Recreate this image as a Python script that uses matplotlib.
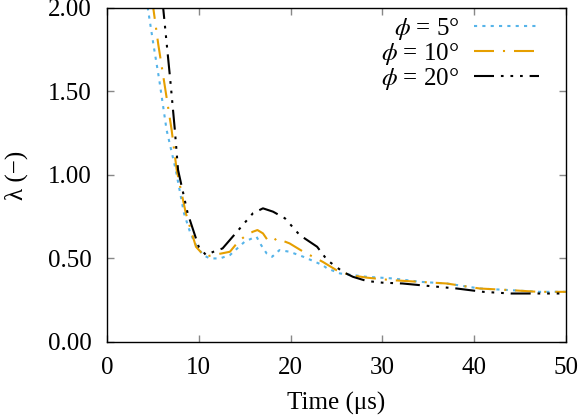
import matplotlib
matplotlib.use("Agg")
import matplotlib.pyplot as plt

plt.rcParams['font.family'] = ['Liberation Serif', 'DejaVu Serif']
plt.rcParams['mathtext.fontset'] = 'stix'

# lambda vs time
t5 = [4.0, 4.45, 5.1, 5.7, 6.5, 7.5, 8.4, 9.1, 9.8, 10.5, 11.2, 12.3, 13.4,
      14.2, 15.0, 15.8, 16.3, 16.8, 17.4, 18.0, 18.8, 19.9, 21.4, 23.5, 24.0,
      25.4, 28.3, 31.2, 34.1, 37.0, 40.6, 44.0, 47.0, 50.0]
lam5 = [2.25, 2.0, 1.77, 1.57, 1.27, 1.03, 0.77, 0.65, 0.57, 0.52, 0.50, 0.50, 0.52,
        0.56, 0.60, 0.62, 0.63, 0.58, 0.53, 0.51, 0.55, 0.54, 0.51, 0.46, 0.44,
        0.41, 0.39, 0.38, 0.36, 0.35, 0.32, 0.31, 0.30, 0.30]

t10 = [4.5, 5.05, 5.6, 6.2, 7.05, 7.6, 8.6, 9.7, 10.7, 11.5, 12.5, 13.4, 14.3,
       15.2, 15.9, 16.4, 17.0, 17.5, 18.0, 18.5, 19.9, 21.4, 23.5, 25.0, 26.5,
       28.3, 31.0, 34.0, 37.0, 40.6, 44.0, 47.0, 50.0]
lam10 = [2.30, 2.0, 1.78, 1.57, 1.27, 1.03, 0.77, 0.57, 0.51, 0.52, 0.53, 0.54, 0.60,
         0.64, 0.66, 0.67, 0.65, 0.61, 0.60, 0.62, 0.59, 0.54, 0.48, 0.43, 0.40,
         0.385, 0.37, 0.36, 0.35, 0.32, 0.31, 0.30, 0.30]

t20 = [5.6, 6.13, 6.9, 7.4, 7.75, 8.8, 10.0, 10.8, 11.6, 12.6, 13.7, 14.8, 15.9,
       17.0, 18.1, 19.4, 21.0, 22.9, 24.0, 25.7, 26.8, 28.3, 30.0, 32.2, 34.1,
       38.1, 41.0, 44.0, 47.0, 50.0]
lam20 = [2.40, 2.0, 1.57, 1.27, 1.03, 0.77, 0.57, 0.52, 0.54, 0.56, 0.63, 0.70, 0.77,
         0.80, 0.78, 0.74, 0.64, 0.57, 0.49, 0.42, 0.39, 0.365, 0.355, 0.35, 0.34,
         0.32, 0.30, 0.29, 0.29, 0.29]

fig = plt.figure(figsize=(5.81, 4.17), dpi=100)
ax = fig.add_axes([0.184, 0.180, 0.790, 0.801])

ax.plot(t5, lam5, color='#56B4E9', lw=1.5, dashes=(1.5, 2.5), label=r'$\phi$ = 5°')
ax.plot(t10, lam10, color='#E69F00', lw=1.5, dashes=(9.6, 4.3, 1.0, 4.3), label=r'$\phi$ = 10°')
ax.plot(t20, lam20, color='black', lw=1.5,
        dashes=(9.6, 3.3, 1.3, 3.3, 1.3, 3.3, 1.3, 3.3), label=r'$\phi$ = 20°')

ax.set_xlim(0, 50)
ax.set_ylim(0, 2)
ax.set_xticks([0, 10, 20, 30, 40, 50])
ax.set_yticks([0, 0.5, 1.0, 1.5, 2.0])
ax.set_yticklabels(['0.00', '0.50', '1.00', '1.50', '2.00'])
ax.tick_params(direction='in', top=True, right=True, length=5, width=1,
               color='#888888', labelsize=18)
ax.tick_params(axis='x', pad=11)
ax.tick_params(axis='y', pad=11)
for s in ax.spines.values():
    s.set_linewidth(1.0)

ax.set_xlabel('Time (μs)', fontsize=18, labelpad=9)
ax.set_ylabel('λ (−)', fontsize=18, labelpad=14)

ax.legend(loc='upper right', frameon=False, markerfirst=False, fontsize=18,
          handlelength=2.6, handletextpad=0.6, labelspacing=-0.05,
          borderaxespad=0.2, bbox_to_anchor=(0.975, 1.02))

fig.savefig('out.png', dpi=100)
